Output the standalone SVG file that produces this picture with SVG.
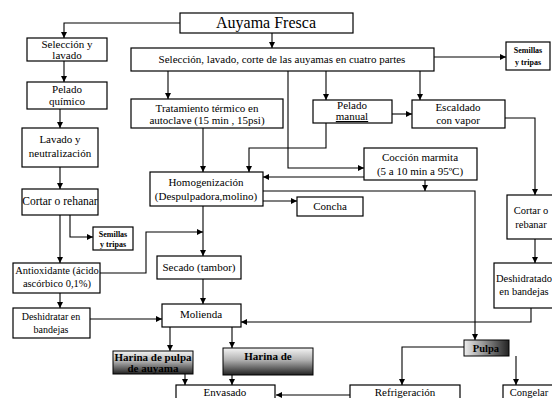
<svg xmlns="http://www.w3.org/2000/svg" width="552" height="398" viewBox="0 0 552 398" font-family="'Liberation Serif', 'DejaVu Serif', serif">
<style>
rect.b{fill:#fff;stroke:#000;stroke-width:1.2}
text{font-family:'Liberation Serif','DejaVu Serif',serif;font-size:11px;fill:#000;text-anchor:middle}
.c path{fill:none;stroke:#000;stroke-width:1.1}
.sm{font-size:8px;font-weight:bold}
.bd{font-weight:bold}
</style>
<defs>
<marker id="a" viewBox="0 0 10 10" refX="10" refY="5" markerWidth="6" markerHeight="6" orient="auto" markerUnits="userSpaceOnUse"><path d="M0,0 L10,5 L0,10 z" fill="#000"/></marker>
<linearGradient id="g" x1="0" y1="0" x2="0" y2="1"><stop offset="0" stop-color="#f4f4f4"/><stop offset="0.45" stop-color="#b0b0b0"/><stop offset="1" stop-color="#222"/></linearGradient>
<linearGradient id="g2" x1="0" y1="0" x2="1" y2="0"><stop offset="0" stop-color="#eee"/><stop offset="0.5" stop-color="#888"/><stop offset="1" stop-color="#222"/></linearGradient>
</defs>
<g class="c" id="connectors">
<path d="M180,23 H64 V38" marker-end="url(#a)"/>
<path d="M64,61 V82" marker-end="url(#a)"/>
<path d="M60,109 V128" marker-end="url(#a)"/>
<path d="M60,167 V189" marker-end="url(#a)"/>
<path d="M70,215 V237 H93" marker-end="url(#a)"/>
<path d="M60,215 V263" marker-end="url(#a)"/>
<path d="M60,293 V308" marker-end="url(#a)"/>
<path d="M90,319 H162" marker-end="url(#a)"/>
<path d="M100,273 H146 V232 H203" marker-end="url(#a)"/>
<path d="M272,33 V48" marker-end="url(#a)"/>
<path d="M434,57 H506" marker-end="url(#a)"/>
<path d="M168,71 V99" marker-end="url(#a)"/>
<path d="M326,71 V100" marker-end="url(#a)"/>
<path d="M420,71 V100" marker-end="url(#a)"/>
<path d="M392,114 H412" marker-end="url(#a)"/>
<path d="M288,71 V168 H364" marker-end="url(#a)"/>
<path d="M203,128 V172" marker-end="url(#a)"/>
<path d="M326,123 V148 H249 V172" marker-end="url(#a)"/>
<path d="M364,177 H263" marker-end="url(#a)"/>
<path d="M425,180 V191" marker-end="url(#a)"/>
<path d="M263,191 H475 V340" marker-end="url(#a)"/>
<path d="M263,201 H297" marker-end="url(#a)"/>
<path d="M203,206 V256" marker-end="url(#a)"/>
<path d="M203,279 V304" marker-end="url(#a)"/>
<path d="M505,118 H535 V195" marker-end="url(#a)"/>
<path d="M535,239 V263" marker-end="url(#a)"/>
<path d="M531,308 V322 H241" marker-end="url(#a)"/>
<path d="M170,327 V351" marker-end="url(#a)"/>
<path d="M232,327 V348" marker-end="url(#a)"/>
<path d="M185,374 V385" marker-end="url(#a)"/>
<path d="M232,375 V385" marker-end="url(#a)"/>
<path d="M350,395 H276" marker-end="url(#a)"/>
<path d="M464,347 H402 V385" marker-end="url(#a)"/>
<path d="M516,356 V385" marker-end="url(#a)"/>
</g>
<g id="auyama"><rect class="b" x="180" y="13" width="173" height="20"/><text x="266" y="28" style="font-size:16px">Auyama Fresca</text></g>
<g id="seleccion-lavado"><rect class="b" x="27" y="38" width="80" height="23"/><text x="67" y="48">Selección y</text><text x="67" y="59">lavado</text></g>
<g id="pelado-quimico"><rect class="b" x="27" y="82" width="80" height="27"/><text x="67" y="93">Pelado</text><text x="67" y="105">químico</text></g>
<g id="lavado-neutralizacion"><rect class="b" x="22" y="128" width="76" height="39"/><text x="60" y="143">Lavado y</text><text x="60" y="157">neutralización</text></g>
<g id="cortar-left"><rect class="b" x="22" y="189" width="76" height="26"/><text x="60" y="205" style="font-size:11.5px">Cortar o rehanar</text></g>
<g id="semillas-left"><rect class="b" x="93" y="227" width="40" height="23"/><text class="sm" x="113" y="237">Semillas</text><text class="sm" x="113" y="247">y tripas</text></g>
<g id="antioxidante"><rect class="b" x="13" y="263" width="87" height="30"/><text x="57" y="274" style="font-size:10.5px">Antioxidante (ácido</text><text x="57" y="287" style="font-size:10.5px">ascórbico 0,1%)</text></g>
<g id="deshidratar"><rect class="b" x="13" y="308" width="77" height="30"/><text x="51" y="320" style="font-size:10px">Deshidratar en</text><text x="51" y="333" style="font-size:10px">bandejas</text></g>
<g id="seleccion-main"><rect class="b" x="131" y="48" width="303" height="23"/><text x="282" y="63">Selección, lavado, corte de las auyamas en cuatro partes</text></g>
<g id="semillas-right"><rect class="b" x="506" y="42" width="44" height="28"/><text class="sm" x="528" y="53">Semillas</text><text class="sm" x="528" y="65">y tripas</text></g>
<g id="tratamiento"><rect class="b" x="131" y="99" width="152" height="29"/><text x="207" y="112">Tratamiento térmico en</text><text x="207" y="124">autoclave (15 min , 15psi)</text></g>
<g id="pelado-manual"><rect class="b" x="313" y="100" width="79" height="23"/><text x="352" y="109">Pelado</text><text x="352" y="120" text-decoration="underline">manual</text></g>
<g id="escaldado"><rect class="b" x="412" y="100" width="93" height="28"/><text x="458" y="111">Escaldado</text><text x="458" y="124">con vapor</text></g>
<g id="coccion"><rect class="b" x="364" y="148" width="113" height="32"/><text x="420" y="161">Cocción marmita</text><text x="420" y="175">(5 a 10 min a 95ºC)</text></g>
<g id="homogenizacion"><rect class="b" x="150" y="172" width="113" height="34"/><text x="206" y="186">Homogenización</text><text x="206" y="200">(Despulpadora,molino)</text></g>
<g id="concha"><rect class="b" x="297" y="197" width="66" height="19"/><text x="330" y="210">Concha</text></g>
<g id="cortar-right"><rect class="b" x="507" y="195" width="55" height="44"/><text x="531" y="214" style="font-size:10.5px">Cortar o</text><text x="531" y="228" style="font-size:10.5px">rebanar</text></g>
<g id="secado"><rect class="b" x="157" y="256" width="84" height="23"/><text x="199" y="271">Secado  (tambor)</text></g>
<g id="deshidratado-right"><rect class="b" x="494" y="263" width="68" height="45"/><text x="496" y="282" style="font-size:10.5px;text-anchor:start">Deshidratado</text><text x="524" y="295" style="font-size:10.5px">en bandejas</text></g>
<g id="molienda"><rect class="b" x="162" y="304" width="79" height="23"/><text x="201" y="318">Molienda</text></g>
<g id="harina-pulpa"><rect x="113" y="351" width="80" height="23" fill="url(#g)" stroke="#000"/><text class="bd" x="153" y="361">Harina de pulpa</text><text class="bd" x="153" y="372" fill="#333">de auyama</text></g>
<g id="harina-de"><rect x="223" y="348" width="90" height="27" fill="url(#g)" stroke="#000"/><text class="bd" x="268" y="360">Harina de</text></g>
<g id="pulpa"><rect x="464" y="340" width="45" height="16" fill="url(#g2)" stroke="#000"/><text class="bd" x="486" y="352" style="font-size:10.5px">Pulpa</text></g>
<g id="envasado"><rect class="b" x="176" y="385" width="99" height="20"/><text x="225" y="396">Envasado</text></g>
<g id="refrigeracion"><rect class="b" x="350" y="385" width="110" height="20"/><text x="405" y="396">Refrigeración</text></g>
<g id="congelar"><rect class="b" x="503" y="385" width="60" height="20"/><text x="529" y="396" style="font-size:10.5px">Congelar</text></g>
</svg>
